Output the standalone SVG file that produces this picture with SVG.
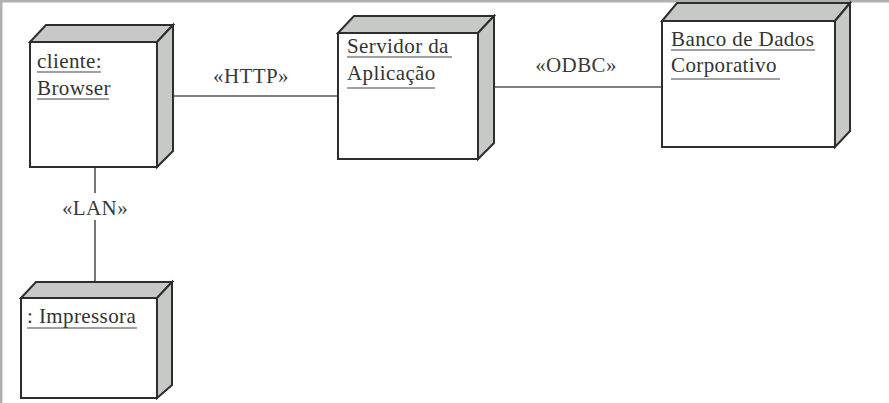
<svg xmlns="http://www.w3.org/2000/svg" width="889" height="403" viewBox="0 0 889 403">
  <style>
    .face { fill: #ffffff; stroke: #2e2e2e; stroke-width: 2; stroke-linejoin: miter; }
    .shade { fill: #c6c9c6; stroke: #2e2e2e; stroke-width: 2; stroke-linejoin: miter; }
    .lbl { font-family: "Liberation Serif", "Times New Roman", serif; font-size: 21px; fill: #333333; letter-spacing: 0.4px; }
    .ul { stroke: #444444; stroke-width: 1.2; }
    .conn { stroke: #555555; stroke-width: 1.6; fill: none; }
    .st { font-family: "Liberation Serif", "Times New Roman", serif; font-size: 21px; fill: #3a3a3a; text-anchor: middle; letter-spacing: 0.4px; }
    .frame { stroke: #b0b0b0; stroke-width: 2.5; }
  </style>
  <rect x="0" y="0" width="889" height="403" fill="#ffffff"/>
  <line class="frame" x1="1.2" y1="0" x2="1.2" y2="403"/>
  <line class="frame" x1="0" y1="1.2" x2="889" y2="1.2"/>

  <g id="connectors">
    <line class="conn" x1="163" y1="96" x2="338" y2="96"/>
    <text class="st" x="251" y="83">«HTTP»</text>
    <line class="conn" x1="488" y1="87" x2="662" y2="87"/>
    <text class="st" x="576" y="72">«ODBC»</text>
    <line class="conn" x1="95" y1="167" x2="95" y2="193"/>
    <line class="conn" x1="95" y1="220" x2="95" y2="282"/>
    <text class="st" x="95" y="215">«LAN»</text>
  </g>

  <g id="cliente">
    <polygon class="shade" points="30,42 46,25 173,25 157,42"/>
    <polygon class="shade" points="157,42 173,25 173,151 157,167"/>
    <rect class="face" x="30" y="42" width="127" height="125"/>
    <text class="lbl" x="37" y="68">cliente:</text>
    <line class="ul" x1="37" y1="72" x2="101" y2="72"/>
    <text class="lbl" x="37" y="95">Browser</text>
    <line class="ul" x1="37" y1="99" x2="109" y2="99"/>
  </g>

  <g id="servidor">
    <polygon class="shade" points="338,33 354,16 494,16 478,33"/>
    <polygon class="shade" points="478,33 494,16 494,143 478,159"/>
    <rect class="face" x="338" y="33" width="140" height="126"/>
    <text class="lbl" x="347" y="53">Servidor da</text>
    <line class="ul" x1="347" y1="57" x2="452" y2="57"/>
    <text class="lbl" x="347" y="80">Aplicação</text>
    <line class="ul" x1="347" y1="88" x2="435" y2="88"/>
  </g>

  <g id="banco">
    <polygon class="shade" points="662,21 677,3 850,3 835,21"/>
    <polygon class="shade" points="835,21 850,3 850,131 835,147"/>
    <rect class="face" x="662" y="21" width="173" height="126"/>
    <text class="lbl" x="671" y="46">Banco de Dados</text>
    <line class="ul" x1="671" y1="50" x2="815" y2="50"/>
    <text class="lbl" x="671" y="72">Corporativo</text>
    <line class="ul" x1="671" y1="79" x2="780" y2="79"/>
  </g>

  <g id="impressora">
    <polygon class="shade" points="21,298 36,282 172,282 157,298"/>
    <polygon class="shade" points="157,298 172,282 172,385 157,398"/>
    <rect class="face" x="21" y="298" width="136" height="100"/>
    <text class="lbl" x="27" y="323">: Impressora</text>
    <line class="ul" x1="27" y1="328" x2="137" y2="328"/>
  </g>
</svg>
